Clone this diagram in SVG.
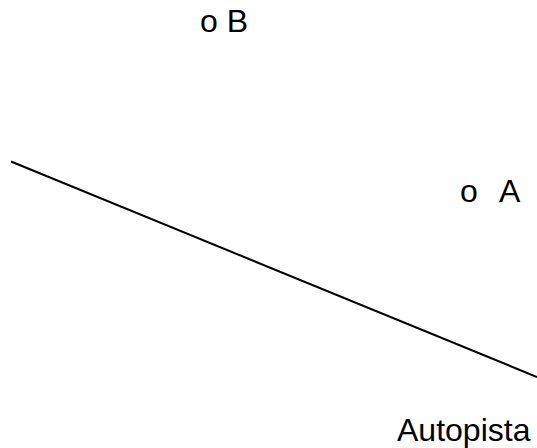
<svg xmlns="http://www.w3.org/2000/svg" width="537" height="448" viewBox="0 0 537 448">
<style>
text{font-family:"Liberation Sans",Arial,sans-serif;font-size:32px;fill:#000}
</style>
<rect width="537" height="448" fill="#fff"/>
<g id="connectors">
<line x1="11" y1="161.5" x2="537" y2="377" stroke="#000" stroke-width="2"/>
</g>
<g id="B"><text x="200" y="32">o B</text></g>
<g id="A"><text x="460" y="202">o<tspan x="499">A</tspan></text></g>
<g id="autopista"><text x="397" y="441">Autopista</text></g>
</svg>
